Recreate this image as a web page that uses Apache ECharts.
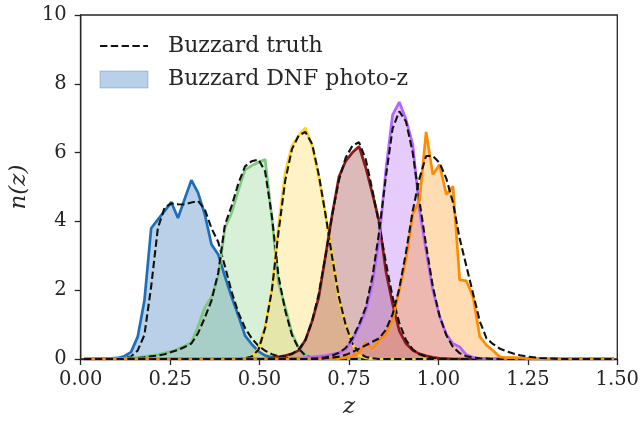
<!DOCTYPE html>
<html>
<head>
<meta charset="utf-8">
<script src="https://cdn.jsdelivr.net/npm/echarts@6/dist/echarts.min.js"></script>
<style>
html,body{margin:0;padding:0;background:#fff;}
#chart{width:642px;height:424px;}
</style>
</head>
<body>
<div id="chart"></div>
<script>
// bin centres (z)
const zGrid = [
0.0094,0.0281,0.0469,0.0656,0.0844,0.1031,0.1219,0.1406,0.1594,0.1781,
0.1969,0.2156,0.2344,0.2531,0.2719,0.2906,0.3094,0.3281,0.3469,0.3656,
0.3844,0.4031,0.4219,0.4406,0.4594,0.4781,0.4969,0.5156,0.5344,0.5531,
0.5719,0.5906,0.6094,0.6281,0.6469,0.6656,0.6844,0.7031,0.7219,0.7406,
0.7594,0.7781,0.7969,0.8156,0.8344,0.8531,0.8719,0.8906,0.9094,0.9281,
0.9469,0.9656,0.9844,1.0031,1.0219,1.0406,1.0594,1.0781,1.0969,1.1156,
1.1344,1.1531,1.1719,1.1906,1.2094,1.2281,1.2469,1.2656,1.2844,1.3031,
1.3219,1.3406,1.3594,1.3781,1.3969,1.4156,1.4344,1.4531,1.4719,1.4906];

// Buzzard DNF photo-z n(z), bins 1..6
const photo1 = [
0,0,0.01,0.01,0.02,0.03,0.08,0.2,0.65,1.7,
3.8,4.05,4.3,4.56,4.1,4.65,5.2,4.83,4.2,3.33,
3.04,2.4,1.8,1.26,0.68,0.43,0.22,0.1,0.05,0.02,
0.01,0,0,0,0,0,0,0,0,0,
0,0,0,0,0,0,0,0,0,0,0,0,0,0,0,0,0,0,0,0,
0,0,0,0,0,0,0,0,0,0,0,0,0,0,0,0,0,0,0,0];
const photo2 = [
0,0,0,0,0,0.01,0.02,0.03,0.05,0.07,
0.1,0.13,0.17,0.22,0.29,0.38,0.48,0.95,1.5,1.8,
2.4,3.8,4.25,4.9,5.5,5.62,5.72,5.8,4.1,2.2,
1.5,0.75,0.32,0.12,0.04,0.01,0,0,0,0,
0,0,0,0,0,0,0,0,0,0,0,0,0,0,0,0,0,0,0,0,
0,0,0,0,0,0,0,0,0,0,0,0,0,0,0,0,0,0,0,0];
const photo3 = [
0,0,0,0,0,0,0,0,0,0,
0,0,0,0,0,0,0,0,0,0,
0,0,0,0,0.02,0.08,0.3,0.95,2.0,3.9,
5.45,6.2,6.5,6.72,6.2,5.3,4.2,3.0,1.72,1.0,
0.45,0.1,0.03,0.01,0,0,0,0,0,0,
0,0,0,0,0,0,0,0,0,0,0,0,0,0,0,0,0,0,0,0,0,0,0,0,0,0,0,0,0,0];
const photo4 = [
0,0,0,0,0,0,0,0,0,0,
0,0,0,0,0,0,0,0,0,0,
0,0,0,0,0,0,0,0,0.03,0.06,
0.1,0.15,0.25,0.55,1.1,1.8,3.0,4.2,5.3,5.75,
6.0,6.18,5.56,4.8,4.0,2.55,1.6,0.82,0.45,0.25,
0.15,0.09,0.05,0.02,0.01,0,0,0,0,0,
0,0,0,0,0,0,0,0,0,0,0,0,0,0,0,0,0,0,0,0];
const photo5 = [
0,0,0,0,0,0,0,0,0,0,
0,0,0,0,0,0,0,0,0,0,
0,0,0,0,0,0,0,0,0,0,
0,0,0.02,0.04,0.06,0.08,0.1,0.14,0.18,0.28,
0.55,0.95,1.4,2.2,3.5,5.5,7.1,7.47,6.96,6.25,
4.35,3.14,2.0,1.25,0.72,0.45,0.35,0.12,0.05,0.02,
0.01,0,0,0,0,0,0,0,0,0,0,0,0,0,0,0,0,0,0,0];
const photo6 = [
0,0,0,0,0,0,0,0,0,0,
0,0,0,0,0,0,0,0,0,0,
0,0,0,0,0,0,0,0,0,0,
0,0,0,0,0,0,0,0.01,0.02,0.04,
0.08,0.19,0.47,0.3,0.55,0.72,1.15,2.0,2.9,4.2,
4.6,6.6,5.36,5.65,4.78,5.02,2.3,2.27,1.8,0.65,
0.4,0.24,0.06,0.04,0.04,0.03,0.02,0.01,0,0,
0,0,0,0,0,0,0,0,0,0];

// Buzzard truth n(z), bins 1..6
const truth1 = [
0,0,0,0,0,0.01,0.03,0.07,0.25,0.7,
2.1,3.8,4.4,4.52,4.5,4.49,4.55,4.59,4.35,3.8,
3.4,2.7,1.95,1.35,0.9,0.6,0.38,0.24,0.14,0.08,
0.04,0.02,0.01,0,0,0,0,0,0,0,
0,0,0,0,0,0,0,0,0,0,0,0,0,0,0,0,0,0,0,0,
0,0,0,0,0,0,0,0,0,0,0,0,0,0,0,0,0,0,0,0];
const truth2 = [
0,0,0,0,0,0,0.01,0.02,0.03,0.05,
0.08,0.1,0.14,0.2,0.26,0.35,0.45,0.75,1.2,1.7,
2.5,3.9,4.45,5.1,5.6,5.75,5.8,5.45,4.15,2.4,
1.4,0.7,0.3,0.1,0.03,0.01,0,0,0,0,
0,0,0,0,0,0,0,0,0,0,0,0,0,0,0,0,0,0,0,0,
0,0,0,0,0,0,0,0,0,0,0,0,0,0,0,0,0,0,0,0];
const truth3 = [
0,0,0,0,0,0,0,0,0,0,
0,0,0,0,0,0,0,0,0,0,
0,0,0,0,0.02,0.07,0.27,0.9,2.0,3.7,
5.2,6.1,6.5,6.6,6.25,5.35,4.2,2.95,1.8,1.0,
0.45,0.17,0.06,0.02,0,0,0,0,0,0,
0,0,0,0,0,0,0,0,0,0,0,0,0,0,0,0,0,0,0,0,0,0,0,0,0,0,0,0,0,0];
const truth4 = [
0,0,0,0,0,0,0,0,0,0,
0,0,0,0,0,0,0,0,0,0,
0,0,0,0,0,0,0,0,0.03,0.05,
0.09,0.15,0.28,0.55,1.1,1.9,3.0,4.2,5.2,5.85,
6.2,6.3,5.8,4.9,3.9,2.8,1.8,1.05,0.55,0.28,
0.14,0.07,0.03,0.01,0,0,0,0,0,0,
0,0,0,0,0,0,0,0,0,0,0,0,0,0,0,0,0,0,0,0];
const truth5 = [
0,0,0,0,0,0,0,0,0,0,
0,0,0,0,0,0,0,0,0,0,
0,0,0,0,0,0,0,0,0,0,
0,0,0,0,0.02,0.03,0.05,0.1,0.18,0.32,
0.6,1.0,1.5,2.4,3.7,5.3,6.7,7.2,6.9,6.0,
4.6,3.3,2.1,1.25,0.7,0.35,0.17,0.08,0.04,0.02,
0.01,0,0,0,0,0,0,0,0,0,0,0,0,0,0,0,0,0,0,0];
const truth6 = [
0,0,0,0,0,0,0,0,0,0,
0,0,0,0,0,0,0,0,0,0,
0,0,0,0,0,0,0,0,0,0,
0,0,0,0,0,0,0.02,0.04,0.07,0.12,
0.2,0.3,0.4,0.5,0.6,0.85,1.3,2.05,3.1,4.3,
5.25,5.9,5.9,5.7,5.25,4.55,3.5,2.7,1.9,1.1,
0.6,0.43,0.3,0.22,0.16,0.11,0.07,0.05,0.03,0.02,
0.01,0,0,0,0,0,0,0,0,0];

const xTicks = [0, 0.25, 0.5, 0.75, 1.0, 1.25, 1.5];
const yTicks = [0, 2, 4, 6, 8, 10];

const lineColors = ['#1f6fb8', '#7fc97f', '#ffd42a', '#8b1a1a', '#b266ff', '#ff8c00'];
const fillColors = ['#1a64b2', '#7fc97f', '#ffd43a', '#8b1a1a', '#a855f7', '#ff8c00'];
const photos = [photo1, photo2, photo3, photo4, photo5, photo6];
const truths = [truth1, truth2, truth3, truth4, truth5, truth6];

const FONT = 'DejaVu Serif';
const INK = '#262626';
const DASH = [7.4, 3.4];

const series = [];
photos.forEach((p, i) => {
  series.push({
    type: 'line',
    name: 'Buzzard DNF photo-z ' + (i + 1),
    data: zGrid.map((z, k) => [z, p[k]]),
    symbol: 'none',
    lineStyle: { color: lineColors[i], width: 2.7 },
    areaStyle: { color: fillColors[i], opacity: 0.3 },
    silent: true
  });
  series.push({
    type: 'line',
    name: 'Buzzard truth ' + (i + 1),
    data: zGrid.map((z, k) => [z, truths[i][k]]),
    symbol: 'none',
    lineStyle: { color: '#111111', width: 2.1, type: DASH },
    silent: true
  });
});

const chart = echarts.init(document.getElementById('chart'), null, { renderer: 'canvas' });
chart.setOption({
  animation: false,
  backgroundColor: '#ffffff',
  grid: {
    left: 78, right: 20, top: 15, bottom: 64,
    show: true, borderColor: INK, borderWidth: 1.3, backgroundColor: 'transparent'
  },
  xAxis: {
    type: 'value', min: 0, max: 1.5, interval: 0.25,
    name: 'z', nameLocation: 'middle', nameGap: 37,
    nameTextStyle: { fontFamily: FONT, fontStyle: 'italic', fontSize: 23, color: INK },
    axisLine: { show: true, lineStyle: { color: INK, width: 1.3 } },
    axisTick: { show: true, length: 6, lineStyle: { color: INK, width: 1.3 } },
    splitLine: { show: false },
    axisLabel: {
      fontFamily: FONT, fontSize: 19.5, color: INK, margin: 11,
      formatter: v => xTicks.includes(v) ? v.toFixed(2) : ''
    }
  },
  yAxis: {
    type: 'value', min: 0, max: 10, interval: 2,
    name: 'n(z)', nameLocation: 'middle', nameGap: 39,
    nameTextStyle: { fontFamily: FONT, fontStyle: 'italic', fontSize: 23, color: INK },
    axisLine: { show: true, lineStyle: { color: INK, width: 1.3 } },
    axisTick: { show: true, length: 6, lineStyle: { color: INK, width: 1.3 } },
    splitLine: { show: false },
    axisLabel: {
      fontFamily: FONT, fontSize: 19.5, color: INK, margin: 14,
      formatter: v => yTicks.includes(v) ? String(v) : ''
    }
  },
  series: series,
  graphic: [
    { type: 'line', shape: { x1: 100, y1: 46, x2: 148, y2: 46 },
      style: { stroke: '#111111', lineWidth: 2.1, lineDash: DASH } },
    { type: 'rect', shape: { x: 100, y: 71, width: 48, height: 17 },
      style: { fill: 'rgba(26,100,178,0.3)', stroke: 'rgba(26,100,178,0.3)', lineWidth: 1 } },
    { type: 'text', x: 168, y: 46,
      style: { text: 'Buzzard truth', fontFamily: FONT, fontSize: 22, fill: INK, verticalAlign: 'middle' } },
    { type: 'text', x: 168, y: 79,
      style: { text: 'Buzzard DNF photo-z', fontFamily: FONT, fontSize: 22, fill: INK, verticalAlign: 'middle' } }
  ]
});
</script>
</body>
</html>
